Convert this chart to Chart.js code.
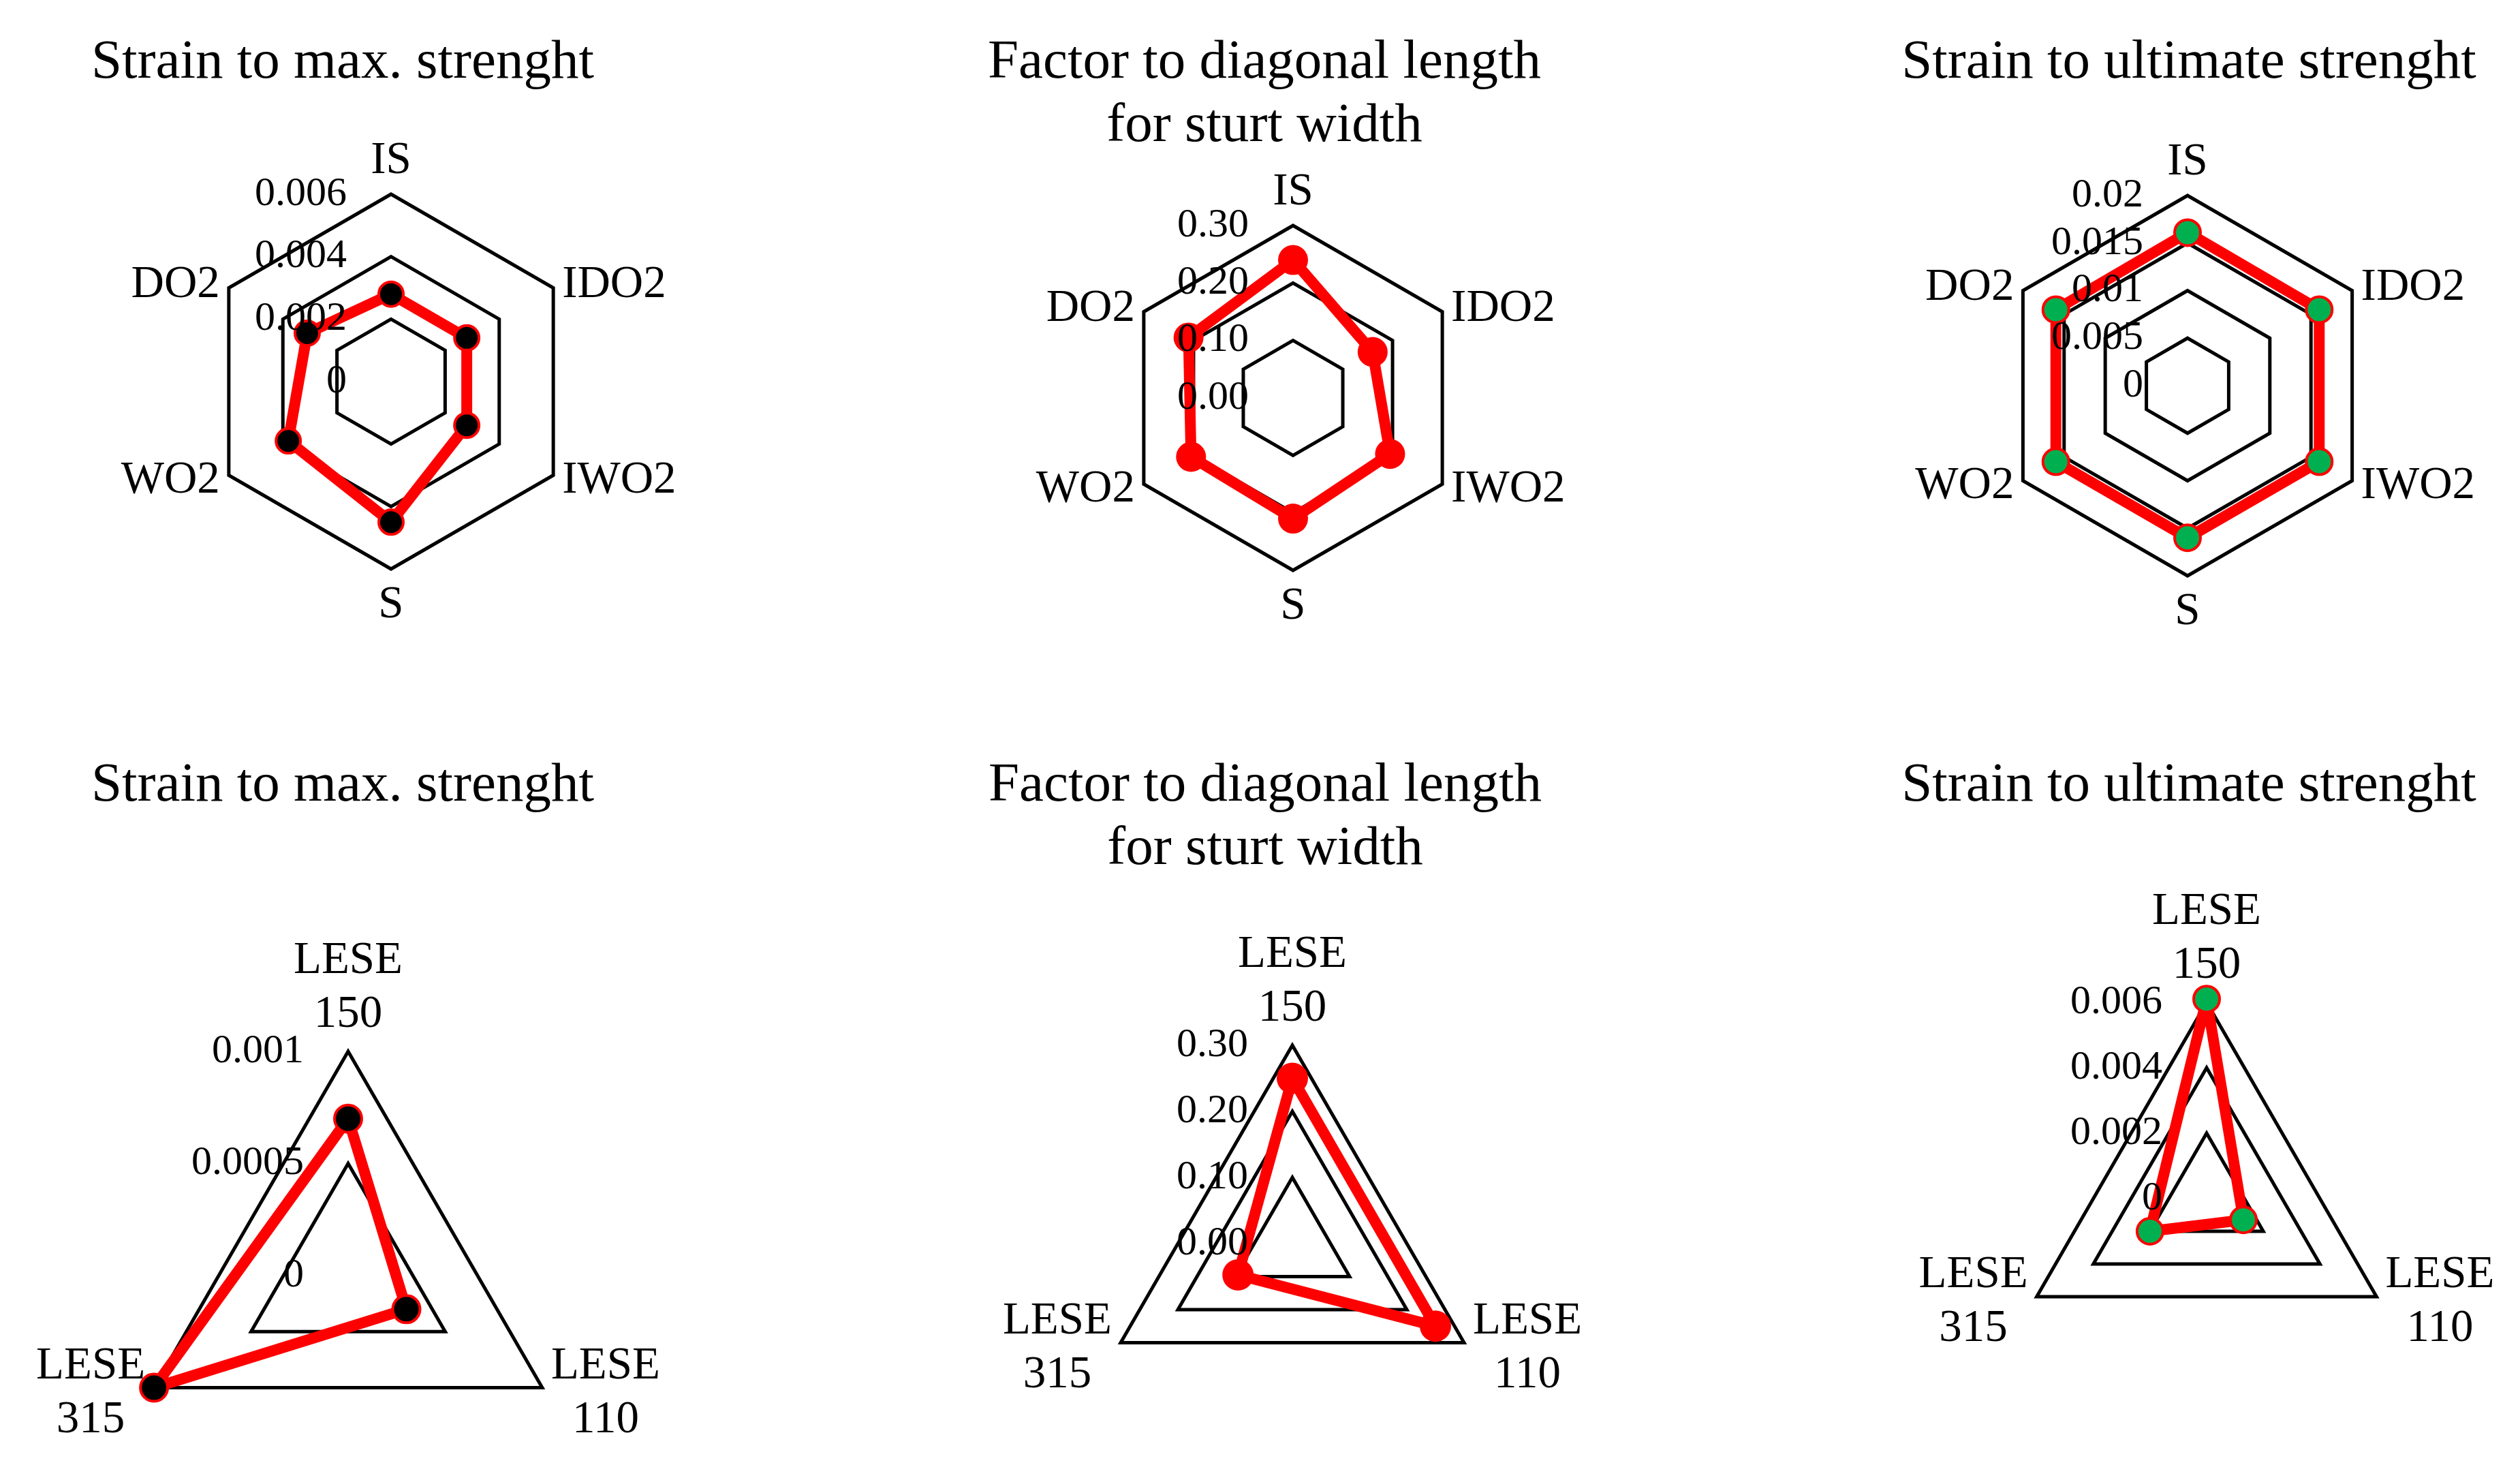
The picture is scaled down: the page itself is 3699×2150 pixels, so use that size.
<!DOCTYPE html>
<html>
<head>
    <title>Radar charts</title>
    <script src="https://cdn.jsdelivr.net/npm/chart.js"></script>
    <style>
        body { margin: 0; background: #fff; }
        #page { position: relative; width: 3699px; height: 2150px; overflow: hidden; background: #fff; }
        #page canvas { position: absolute; }
        .title {
            position: absolute; width: 1000px; text-align: center;
            font-family: "Liberation Serif", serif; font-size: 81px; line-height: 93px; color: #000;
        }
    </style>
</head>
<body>
<div id="page"></div>
<script>
    // Categories (clockwise from the top)
    const hexLabels = ['IS', 'IDO2', 'IWO2', 'S', 'WO2', 'DO2'];
    const leseLabels = [['LESE', '150'], ['LESE', '110'], ['LESE', '315']];

    // Values
    const maxStrainHex = [0.0028, 0.0028, 0.0028, 0.0045, 0.0038, 0.0031];
    const strutFactorHex = [0.24, 0.16, 0.195, 0.21, 0.205, 0.21];
    const ultStrainHex = [0.0161, 0.016, 0.016, 0.016, 0.016, 0.016];
    const maxStrainLese = [0.0007, 0.0003, 0.001];
    const strutFactorLese = [0.25, 0.25, 0.095];
    const ultStrainLese = [0.0061, 0.0013, 0.002];

    // Tick labels (inner to outer)
    const ticksMaxHex = ['0', '0.002', '0.004', '0.006'];
    const ticksFactor = ['0.00', '0.10', '0.20', '0.30'];
    const ticksUltHex = ['0', '0.005', '0.01', '0.015', '0.02'];
    const ticksMaxLese = ['0', '0.0005', '0.001'];
    const ticksUltLese = ['0', '0.002', '0.004', '0.006'];

    const titleMax = ['Strain to max. strenght'];
    const titleFactor = ['Factor to diagonal length', 'for sturt width'];
    const titleUlt = ['Strain to ultimate strenght'];

    const RED = '#ff0000';
    const GREEN = '#00b050';
    const markers = {
        black: { fill: '#000', border: RED, radius: 18, width: 4 },
        blackBig: { fill: '#000', border: RED, radius: 20, width: 4 },
        red: { fill: RED, border: RED, radius: 22, width: 0 },
        redBig: { fill: RED, border: RED, radius: 23, width: 0 },
        green: { fill: GREEN, border: RED, radius: 19, width: 4 }
    };

    // panel layout: canvas box (x, y, w, h), radar centre and radius, title position
    const panels = [
        { title: titleMax, labels: hexLabels, values: maxStrainHex, ticks: ticksMaxHex, marker: 'black',
          box: [0, 0, 1233, 1100], cx: 574, cy: 560, r: 275, tx: 503, ty: 41 },
        { title: titleFactor, labels: hexLabels, values: strutFactorHex, ticks: ticksFactor, marker: 'red',
          box: [1233, 0, 1233, 1100], cx: 1898, cy: 584, r: 253, tx: 1856, ty: 41 },
        { title: titleUlt, labels: hexLabels, values: ultStrainHex, ticks: ticksUltHex, marker: 'green',
          box: [2466, 0, 1233, 1100], cx: 3211, cy: 566, r: 279, tx: 3213, ty: 41 },
        { title: titleMax, labels: leseLabels, values: maxStrainLese, ticks: ticksMaxLese, marker: 'blackBig',
          box: [0, 1000, 1233, 1300], cx: 511, cy: 1872, r: 329, tx: 503, ty: 1102 },
        { title: titleFactor, labels: leseLabels, values: strutFactorLese, ticks: ticksFactor, marker: 'redBig',
          box: [1233, 1000, 1233, 1300], cx: 1897, cy: 1825, r: 291, tx: 1857, ty: 1102 },
        { title: titleUlt, labels: leseLabels, values: ultStrainLese, ticks: ticksUltLese, marker: 'green',
          box: [2466, 1000, 1233, 1300], cx: 3239, cy: 1759, r: 288, tx: 3213, ty: 1102 }
    ];

    // Excel-like text: tick labels left of the vertical axis, category labels outside the vertices
    const radarText = {
        id: 'radarText',
        afterDatasetsDraw(chart, args, opts) {
            const scale = chart.scales.r;
            const ctx = chart.ctx;
            ctx.save();
            ctx.fillStyle = '#000';
            ctx.textBaseline = 'middle';

            ctx.font = '60px "Liberation Serif"';
            ctx.textAlign = 'right';
            scale.ticks.forEach((tick, i) => {
                const d = scale.getDistanceFromCenterForValue(tick.value);
                ctx.fillText(opts.tickLabels[i], scale.xCenter - 65, scale.yCenter - d);
            });

            ctx.font = '67px "Liberation Serif"';
            ctx.textAlign = 'center';
            const lineGap = 79;
            chart.data.labels.forEach((label, i) => {
                const lines = [].concat(label);
                const a = scale.getIndexAngle(i);
                const p = scale.getPointPosition(i, scale.drawingArea);
                const s = Math.sin(a), c = Math.cos(a);
                let x = p.x, first;
                if (Math.abs(s) < 0.01) {
                    const topGap = lines.length > 1 ? 54 : 49;
                    first = c > 0 ? p.y - topGap - (lines.length - 1) * lineGap : p.y + 53;
                } else {
                    const w = Math.max(...lines.map(t => ctx.measureText(t).width));
                    x = s > 0 ? p.x + 13 + w / 2 : p.x - 13 - w / 2;
                    const shift = c > 0 ? -4 : 8;
                    first = p.y + shift - (lines.length - 1) * lineGap / 2;
                }
                lines.forEach((t, k) => ctx.fillText(t, x, first + k * lineGap));
            });
            ctx.restore();
        }
    };

    const page = document.getElementById('page');

    panels.forEach(pn => {
        const [x, y, w, h] = pn.box;

        const title = document.createElement('div');
        title.className = 'title';
        title.style.left = (pn.tx - 500) + 'px';
        title.style.top = pn.ty + 'px';
        title.innerHTML = pn.title.join('<br>');
        page.appendChild(title);

        const canvas = document.createElement('canvas');
        canvas.width = w;
        canvas.height = h;
        canvas.style.left = x + 'px';
        canvas.style.top = y + 'px';
        page.appendChild(canvas);

        const m = markers[pn.marker];
        const tickValues = pn.ticks.map(t => parseFloat(t));

        new Chart(canvas.getContext('2d'), {
            type: 'radar',
            data: {
                labels: pn.labels,
                datasets: [{
                    data: pn.values,
                    borderColor: RED,
                    borderWidth: 16,
                    borderJoinStyle: 'round',
                    fill: false,
                    tension: 0,
                    pointRadius: m.radius,
                    pointBackgroundColor: m.fill,
                    pointBorderColor: m.border,
                    pointBorderWidth: m.width
                }]
            },
            options: {
                responsive: false,
                animation: false,
                events: [],
                layout: {
                    padding: {
                        left: pn.cx - pn.r - x,
                        right: x + w - pn.cx - pn.r,
                        top: pn.cy - pn.r - y,
                        bottom: y + h - pn.cy - pn.r
                    }
                },
                plugins: {
                    legend: { display: false },
                    title: { display: false },
                    tooltip: { enabled: false },
                    radarText: { tickLabels: pn.ticks }
                },
                scales: {
                    r: {
                        min: 0,
                        max: tickValues[tickValues.length - 1],
                        beginAtZero: true,
                        afterBuildTicks: scale => {
                            scale.ticks = tickValues.map(v => ({ value: v }));
                        },
                        ticks: { display: false },
                        grid: { color: '#000', lineWidth: 5, circular: false },
                        angleLines: { display: false },
                        pointLabels: { display: false }
                    }
                }
            },
            plugins: [radarText]
        });
    });
</script>
</body>
</html>
